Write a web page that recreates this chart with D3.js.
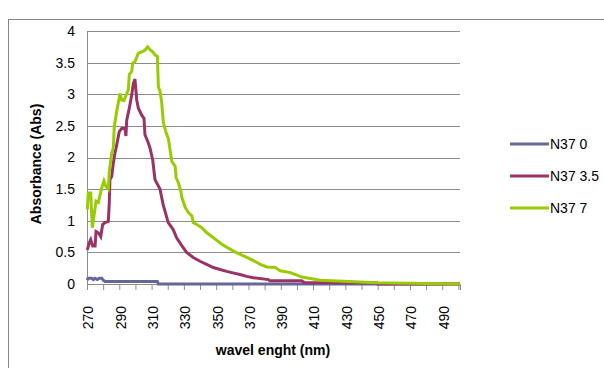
<!DOCTYPE html>
<html>
<head>
<meta charset="utf-8">
<script src="https://cdn.jsdelivr.net/npm/d3@7"></script>
<style>
  body { margin: 0; background: #fff; }
  text { font-family: "Liberation Sans Narrow", "Liberation Sans", Arial, sans-serif; fill: #000; }
</style>
</head>
<body>
<script>
// wavelength (nm) / absorbance pairs
var n370_nm  = [270, 270.8, 272.9, 273.9, 274.9, 276.4, 277.6, 279.1, 280.1, 281.1, 313.6, 314.2, 501];
var n370_abs = [0.06, 0.09, 0.09, 0.07, 0.09, 0.07, 0.09, 0.09, 0.06, 0.04, 0.04, 0, 0];

var n3735_nm  = [270.2, 271.4, 272.3, 273.5, 275.0, 275.6, 277.0, 278.5, 279.7, 281.1, 283.2, 283.8, 284.2, 285.3,
                 286.3, 287.3, 288.4, 290.0, 291.5, 293.5, 294.1, 294.6, 296.2, 297.7, 298.7, 299.7, 300.8, 301.8,
                 303.9, 305.3, 305.9, 308.0, 309.0, 310.7, 312.1, 315.2, 317.2, 320.3, 323.4, 325.5, 328.6, 331.7,
                 335.8, 340.0, 344.1, 348.2, 352.4, 356.5, 359.6, 364.7, 368.9, 373.0, 382.3, 383.3, 402.9, 405.0,
                 449.4, 450, 501];
var n3735_abs = [0.54, 0.65, 0.70, 0.60, 0.60, 0.83, 0.81, 0.75, 0.94, 0.97, 0.99, 1.28, 1.65, 1.70,
                 1.91, 2.07, 2.20, 2.41, 2.46, 2.46, 2.34, 2.59, 2.78, 2.99, 3.17, 3.24, 2.91, 2.78,
                 2.67, 2.62, 2.36, 2.23, 2.15, 1.96, 1.65, 1.50, 1.25, 0.97, 0.86, 0.73, 0.61, 0.50,
                 0.42, 0.36, 0.31, 0.26, 0.23, 0.20, 0.18, 0.15, 0.12, 0.10, 0.07, 0.05, 0.05, 0.02,
                 0.02, 0, 0];

var n377_nm  = [270.2, 270.8, 272.3, 273.3, 275.6, 277.0, 279.1, 280.5, 281.6, 283.2, 283.8, 285.3, 286.3, 286.9,
                288.4, 290.5, 291.5, 292.9, 293.5, 295.6, 296.2, 297.7, 298.3, 299.8, 301.8, 303.9, 306.0, 307.6,
                309.1, 310.7, 312.2, 313.6, 314.2, 315.3, 316.3, 317.3, 319.0, 320.4, 322.5, 324.6, 325.2, 326.6,
                328.1, 328.7, 330.8, 332.8, 334.9, 335.9, 338.0, 341.1, 344.2, 347.3, 350.4, 353.5, 356.6, 360.7,
                364.9, 369.0, 373.1, 377.3, 381.4, 386.6, 389.7, 395.9, 400.0, 403.1, 414.5, 449.6, 501];
var n377_abs = [1.18, 1.44, 1.44, 0.89, 1.31, 1.29, 1.52, 1.63, 1.55, 1.50, 1.78, 2.07, 2.15, 2.49,
                2.73, 3.01, 2.91, 2.90, 2.94, 3.07, 3.31, 3.36, 3.49, 3.52, 3.65, 3.67, 3.70, 3.75,
                3.70, 3.67, 3.62, 3.60, 3.12, 3.04, 2.86, 2.55, 2.39, 2.30, 1.94, 1.86, 1.68, 1.60,
                1.47, 1.37, 1.21, 1.13, 1.08, 0.97, 0.94, 0.89, 0.81, 0.75, 0.69, 0.63, 0.58, 0.52,
                0.47, 0.42, 0.37, 0.31, 0.27, 0.26, 0.21, 0.18, 0.14, 0.11, 0.06, 0.02, 0];

var seriesNames = ["N37 0", "N37 3.5", "N37 7"];
var seriesColors = ["#666699", "#993366", "#99CC00"];
var yTicks = [0, 0.5, 1, 1.5, 2, 2.5, 3, 3.5, 4];
var xTickLabels = [270, 290, 310, 330, 350, 370, 390, 410, 430, 450, 470, 490];

var W = 604, H = 368;
var svg = d3.select("body").append("svg").attr("width", W).attr("height", H);

// chart border
svg.append("rect")
  .attr("x", 8.5).attr("y", 19.5)
  .attr("width", 640).attr("height", 400)
  .attr("fill", "none").attr("stroke", "#868686").attr("stroke-width", 1);

var x = d3.scaleLinear().domain([270, 501]).range([87, 460]);
var y = d3.scaleLinear().domain([0, 4]).range([284, 31]);

// gridlines
svg.append("g").selectAll("line")
  .data(yTicks.slice(1))
  .enter().append("line")
  .attr("x1", 87).attr("x2", 460)
  .attr("y1", function(d) { return Math.round(y(d)) + 0.5; })
  .attr("y2", function(d) { return Math.round(y(d)) + 0.5; })
  .attr("stroke", "#8c8c8c").attr("stroke-width", 1);

// y axis
var yAxis = d3.axisLeft(y).tickValues(yTicks).tickSize(0).tickPadding(12)
  .tickFormat(function(d) { return d; });
var gy = svg.append("g").attr("transform", "translate(87,0)").call(yAxis);
gy.select(".domain").attr("stroke", "#8c8c8c");
gy.selectAll("text").style("font-size", "14px")
  .style("font-family", "'Liberation Sans Narrow', 'Liberation Sans', Arial, sans-serif");

// x axis: ticks every 10 nm, labels every 20
var xAxis = d3.axisBottom(x).tickValues(d3.range(270, 501, 10)).tickSize(6).tickPadding(0)
  .tickFormat(function(d) { return xTickLabels.indexOf(d) >= 0 ? d : ""; });
var gx = svg.append("g").attr("transform", "translate(0,284)").call(xAxis);
gx.select(".domain").attr("stroke", "#8c8c8c");
gx.selectAll(".tick line").attr("stroke", "#8c8c8c");
gx.selectAll("text")
  .style("font-size", "14px")
  .style("font-family", "'Liberation Sans Narrow', 'Liberation Sans', Arial, sans-serif")
  .attr("text-anchor", "end")
  .attr("dy", "0.35em")
  .attr("transform", "translate(1,22) rotate(-90)")
  .attr("x", 0).attr("y", 0);

// lines
var line = d3.line()
  .x(function(d) { return x(d[0]); })
  .y(function(d) { return y(d[1]); });

var allSeries = [
  d3.zip(n370_nm, n370_abs),
  d3.zip(n3735_nm, n3735_abs),
  d3.zip(n377_nm, n377_abs)
];

svg.append("g").selectAll("path")
  .data(allSeries)
  .enter().append("path")
  .attr("d", line)
  .attr("fill", "none")
  .attr("stroke", function(d, i) { return seriesColors[i]; })
  .attr("stroke-width", 3)
  .attr("stroke-linejoin", "miter");

// axis titles
svg.append("text")
  .attr("transform", "translate(41,164) rotate(-90)")
  .attr("text-anchor", "middle")
  .style("font-size", "14px").style("font-weight", "bold")
  .text("Absorbance (Abs)");

svg.append("text")
  .attr("x", 273).attr("y", 355)
  .attr("text-anchor", "middle")
  .style("font-size", "14px").style("font-weight", "bold")
  .text("wavel enght (nm)");

// legend
var legend = svg.append("g").selectAll("g")
  .data(seriesNames)
  .enter().append("g")
  .attr("transform", function(d, i) { return "translate(510," + (144 + i * 32) + ")"; });
legend.append("line")
  .attr("x1", 0).attr("x2", 39)
  .attr("stroke", function(d, i) { return seriesColors[i]; })
  .attr("stroke-width", 3);
legend.append("text")
  .attr("x", 40).attr("dy", "0.35em")
  .style("font-size", "14px")
  .text(function(d) { return d; });
</script>
</body>
</html>
